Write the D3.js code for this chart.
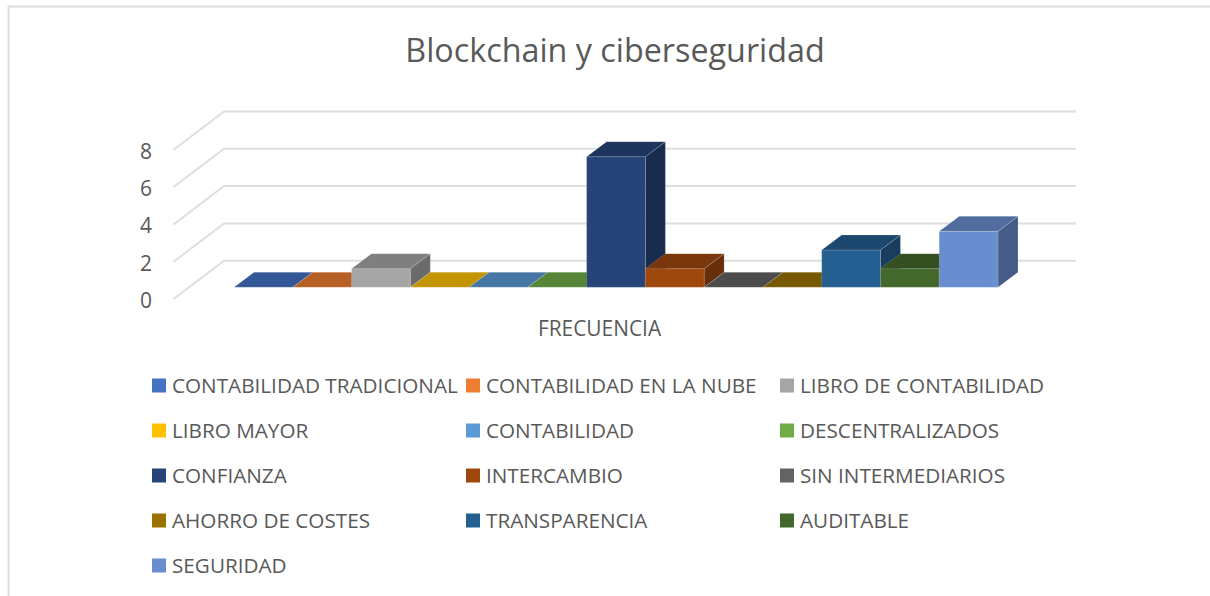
<!DOCTYPE html>
<html lang="es">
<head>
<meta charset="utf-8">
<script src="https://cdn.jsdelivr.net/npm/d3@7/dist/d3.min.js"></script>
<style>
html,body{margin:0;padding:0;background:#fff;overflow:hidden}
svg{display:block}
text{font-family:"Open Sans","Noto Sans",sans-serif;fill:#595959}
</style>
</head>
<body>
<svg id="chart" width="1210" height="596" role="img" aria-label="Blockchain y ciberseguridad"></svg>
<script>
const chartTitle = "Blockchain y ciberseguridad";
const categoryLabel = "FRECUENCIA";
const seriesNames = ["CONTABILIDAD TRADICIONAL","CONTABILIDAD EN LA NUBE","LIBRO DE CONTABILIDAD","LIBRO MAYOR","CONTABILIDAD","DESCENTRALIZADOS","CONFIANZA","INTERCAMBIO","SIN INTERMEDIARIOS","AHORRO DE COSTES","TRANSPARENCIA","AUDITABLE","SEGURIDAD"];
const seriesValues = [0,0,1,0,0,0,7,1,0,0,2,1,3];
const seriesColors = ["#4472C4","#ED7D31","#A5A5A5","#FFC000","#5B9BD5","#70AD47","#264478","#9E480E","#636363","#997300","#255E91","#43682B","#698ED0"];
const yTicks = [0,2,4,6,8];

const svg = d3.select("#chart");
const W = 1210, H = 596;

// chart frame
svg.append("path").attr("d", `M8.5,${H} V6.5 H${W}`).attr("fill","none").attr("stroke","#dcdcdc").attr("stroke-width",1.8);

// title
svg.append("text").attr("x",615).attr("y",62).attr("text-anchor","middle")
   .style("font-size","32.3px").text(chartTitle);

// scales
const y = d3.scaleLinear().domain([0,8]).range([299.3,150]);
const x = d3.scaleBand().domain(seriesNames).range([234,998]).padding(0);
const wall = {x0:173.3, dx:50.7, dy:38.6, x1:1076};
const bar = {dx:20, dy:15, lift:12};
const shade = (c,k)=>{const r=d3.rgb(c);return d3.rgb(r.r*k,r.g*k,r.b*k).formatHex();};

// gridlines on the side and back walls
const grid = svg.append("g").attr("fill","none").attr("stroke","#dedede").attr("stroke-width",2);
grid.selectAll("path").data(yTicks).join("path")
  .attr("d", t => `M${wall.x0},${y(t)} L${wall.x0+wall.dx},${y(t)-wall.dy} H${wall.x1}`);

// y axis labels
const axis = svg.append("g").attr("transform","translate(152,1.5)")
  .call(d3.axisLeft(y).tickValues(yTicks).tickSize(0).tickPadding(0));
axis.select(".domain").remove();
axis.selectAll("text").style("font-size","21px").style("font-family",'"Open Sans","Noto Sans",sans-serif').attr("fill","#595959");

// 3D bars
const rows = seriesNames.map((name,i)=>({name,value:seriesValues[i],color:seriesColors[i]}));
const bars = svg.append("g").selectAll("g").data(rows).join("g");
const edge = {stroke:"#ffffff","stroke-opacity":0.2,"stroke-width":0.8,"stroke-linejoin":"round"};
const styled = s => { Object.entries(edge).forEach(([k,v])=>s.attr(k,v)); return s; };

bars.each(function(d){
  const g = d3.select(this);
  const l = x(d.name), r = l + x.bandwidth();
  const b = y(0) - bar.lift, t = y(d.value) - bar.lift;
  if (d.value > 0) {
    styled(g.append("path")).attr("fill", shade(d.color,0.65))
      .attr("d",`M${r},${t} l${bar.dx},${-bar.dy} V${b-bar.dy} L${r},${b} Z`);
    styled(g.append("rect")).attr("fill", d.color)
      .attr("x",l).attr("y",t).attr("width",r-l).attr("height",b-t);
  }
  styled(g.append("path")).attr("fill", shade(d.color,0.77))
    .attr("d",`M${l},${t} l${bar.dx},${-bar.dy} H${r+bar.dx} L${r},${t} Z`);
});

// category label
svg.append("text").attr("x",599.5).attr("y",336).attr("text-anchor","middle")
   .style("font-size","20.9px").text(categoryLabel);

// legend
const legendCols = [152,466,780], legendRowY = d3.scalePoint().domain(d3.range(5)).range([385.5,565.5]);
const legend = svg.append("g").selectAll("g").data(rows).join("g")
  .attr("transform",(d,i)=>`translate(${legendCols[i%3]},${legendRowY(Math.floor(i/3))})`);
legend.append("rect").attr("x",0).attr("y",-7).attr("width",14).attr("height",14).attr("fill",d=>d.color);
legend.append("text").attr("x",20).attr("y",7.5).style("font-size","20.7px").text(d=>d.name);
</script>
</body>
</html>
